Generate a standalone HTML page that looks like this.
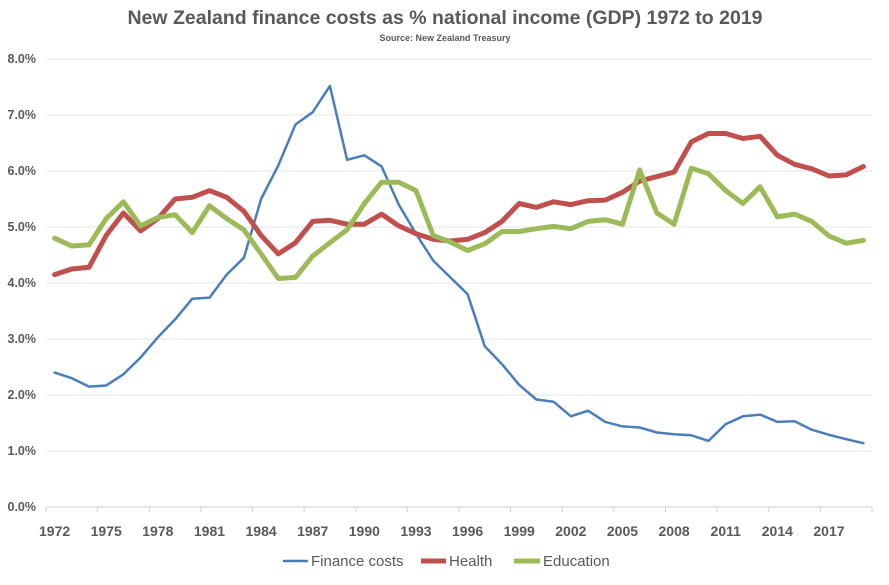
<!DOCTYPE html>
<html><head><meta charset="utf-8"><style>
body{margin:0;background:#fff;font-family:"Liberation Sans",sans-serif}
svg text{font-family:"Liberation Sans",sans-serif;fill:#595959;font-weight:bold}
</style></head><body>
<svg id="chart" width="889" height="580" xmlns="http://www.w3.org/2000/svg">
<text x="445" y="24" font-size="19.5" text-anchor="middle">New Zealand finance costs as % national income (GDP) 1972 to 2019</text>
<text x="445" y="41" font-size="9" text-anchor="middle">Source: New Zealand Treasury</text>
<g id="grid"></g><g id="axes"></g><g id="lines"></g>
<g>
<line x1="283" y1="561" x2="308" y2="561" stroke="#4A7EBB" stroke-width="2.5"/>
<text x="311" y="566" font-size="15" style="font-weight:normal">Finance costs</text>
<line x1="421" y1="561" x2="446" y2="561" stroke="#C0504D" stroke-width="5"/>
<text x="449" y="566" font-size="15" style="font-weight:normal">Health</text>
<line x1="514" y1="561" x2="540" y2="561" stroke="#9BBB59" stroke-width="5"/>
<text x="543" y="566" font-size="15" style="font-weight:normal">Education</text>
</g>
</svg>
<script>
const years=[];for(let y=1972;y<=2019;y++)years.push(y);
const financeCosts=[2.4,2.3,2.15,2.17,2.37,2.67,3.03,3.35,3.72,3.74,4.15,4.45,5.5,6.1,6.83,7.05,7.52,6.2,6.28,6.08,5.4,4.88,4.4,4.1,3.8,2.87,2.55,2.18,1.92,1.88,1.62,1.72,1.52,1.44,1.42,1.33,1.3,1.28,1.18,1.48,1.62,1.65,1.52,1.53,1.38,1.29,1.21,1.14];
const health=[4.15,4.25,4.28,4.85,5.25,4.93,5.15,5.5,5.53,5.65,5.53,5.28,4.85,4.52,4.72,5.1,5.12,5.05,5.05,5.23,5.02,4.88,4.78,4.75,4.78,4.9,5.1,5.42,5.35,5.45,5.4,5.47,5.48,5.62,5.82,5.9,5.98,6.52,6.67,6.67,6.58,6.62,6.28,6.12,6.04,5.91,5.93,6.08];
const education=[4.8,4.66,4.68,5.15,5.45,5.02,5.17,5.22,4.9,5.38,5.15,4.95,4.52,4.08,4.1,4.48,4.72,4.95,5.42,5.8,5.8,5.65,4.85,4.73,4.58,4.7,4.92,4.92,4.97,5.01,4.97,5.1,5.13,5.05,6.02,5.25,5.05,6.05,5.95,5.65,5.42,5.72,5.18,5.23,5.1,4.84,4.71,4.76];
const yTicks=[0,1,2,3,4,5,6,7,8];
const xLabelYears=[1972,1975,1978,1981,1984,1987,1990,1993,1996,1999,2002,2005,2008,2011,2014,2017];
const NS="http://www.w3.org/2000/svg";
const x0=46,x1=872,y0=507,pxPer=56;
const step=(x1-x0)/years.length;
const xs=i=>x0+step*(i+0.5);
const ys=v=>y0-v*pxPer;
function mk(tag,attrs,parent){const e=document.createElementNS(NS,tag);for(const k in attrs)e.setAttribute(k,attrs[k]);parent.appendChild(e);return e;}
const grid=document.getElementById('grid'),axes=document.getElementById('axes'),lines=document.getElementById('lines');
yTicks.forEach(t=>{
 const g=mk('line',{x1:x0,x2:x1,y1:ys(t),y2:ys(t),stroke:t===0?'#d0d0d0':'#e3e3e3','stroke-width':1},grid);
 
 
 const l=mk('text',{x:36,y:ys(t)+4,'font-size':12.5,'text-anchor':'end'},axes);
 l.textContent=t.toFixed(1)+'%';
 
 
});
for(let i=0;i<=years.length;i+=3){
 const tk=mk('line',{x1:x0+step*i,x2:x0+step*i,y1:y0,y2:y0+5,stroke:'#d0d0d0'},axes);
 
 
}
xLabelYears.forEach(yr=>{
 const i=years.indexOf(yr);
 const l=mk('text',{x:xs(i),y:536,'font-size':14,'text-anchor':'middle'},axes);
 l.textContent=yr;
 
 
});
function series(data,color,w,name){
 const p=mk('path',{d:data.map((v,i)=>(i?'L':'M')+xs(i).toFixed(1)+','+ys(v).toFixed(1)).join(''),fill:'none',stroke:color,'stroke-width':w,'stroke-linejoin':'round','stroke-linecap':'round'},lines);
 
 
}
series(financeCosts,'#4A7EBB',2.5,'finance-costs-line');
series(health,'#C0504D',5,'health-line');
series(education,'#9BBB59',5,'education-line');
</script>
</body></html>
